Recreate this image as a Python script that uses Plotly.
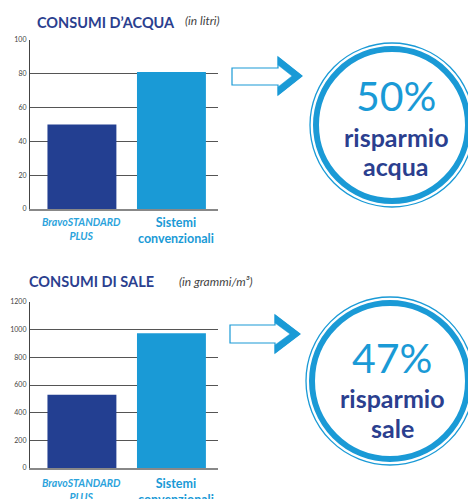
import plotly.graph_objects as go

W, H = 476, 499
OFF = 8  # page body margin of the browser

categories = ["BravoSTANDARD PLUS", "Sistemi convenzionali"]
water_values = [50, 81]
salt_values = [530, 975]
water_ticks = [0, 20, 40, 60, 80, 100]
salt_ticks = [0, 200, 400, 600, 800, 1000, 1200]
water_saving = "50%"
salt_saving = "47%"

DARK = "#233f91"
LIGHT = "#1a9ad6"
TXT_DARK = "#2b3f8f"

FW, FH = W - OFF, H - OFF


def px(x):
    return (x - OFF) / FW


def py(y):
    return 1 - (y - OFF) / FH


fig = go.Figure()
fig.add_trace(go.Bar(x=categories, y=water_values, marker_color=[DARK, LIGHT],
                     width=0.77, xaxis="x", yaxis="y", showlegend=False,
                     marker_line_width=0))
fig.add_trace(go.Bar(x=categories, y=salt_values, marker_color=[DARK, LIGHT],
                     width=0.77, xaxis="x2", yaxis="y2", showlegend=False,
                     marker_line_width=0))

xdom = [px(30), px(218)]
xcommon = dict(domain=xdom, range=[-0.58, 1.52], showticklabels=False, ticks="",
               showline=True, linecolor="#888", linewidth=1.5, showgrid=False,
               zeroline=False, fixedrange=True, automargin=False)
ycommon = dict(showline=True, linecolor="#444", linewidth=1.2, showgrid=True,
               gridcolor="#555", gridwidth=1.1, zeroline=False, ticks="", automargin=False,
               tickfont=dict(family="Lato", size=7, color="#444"), ticklabelstandoff=1)

fig.update_layout(
    width=FW, height=FH, margin=dict(l=0, r=0, t=0, b=0, autoexpand=False),
    paper_bgcolor="white", plot_bgcolor="white",
    xaxis=dict(**xcommon, anchor="y"),
    yaxis=dict(**ycommon, domain=[py(209), py(40)], range=[0, 100], tickvals=water_ticks, anchor="x"),
    xaxis2=dict(**xcommon, anchor="y2"),
    yaxis2=dict(**ycommon, domain=[py(468), py(302)], range=[0, 1200], tickvals=salt_ticks, anchor="x2"),
    bargap=0.2,
)

ann = []
# titles
ann.append(dict(text="<b>CONSUMI D’ACQUA</b>", x=px(35), y=py(22), xref="paper", yref="paper",
                xanchor="left", yanchor="middle", showarrow=False,
                font=dict(family="Lato", size=14.5, color=TXT_DARK)))
ann.append(dict(text="<i>(in litri)</i>", x=px(183), y=py(21), xref="paper", yref="paper",
                xanchor="left", yanchor="middle", showarrow=False,
                font=dict(family="Lato", size=12, color="#444")))
ann.append(dict(text="<b>CONSUMI DI SALE</b>", x=px(27), y=py(281), xref="paper", yref="paper",
                xanchor="left", yanchor="middle", showarrow=False,
                font=dict(family="Lato", size=14.5, color=TXT_DARK)))
ann.append(dict(text="<i>(in grammi/m³)</i>", x=px(177), y=py(281), xref="paper", yref="paper",
                xanchor="left", yanchor="middle", showarrow=False,
                font=dict(family="Lato", size=12, color="#444")))

# category labels
for xa, base in (("x", 209), ("x2", 468)):
    off = 0 if xa == "x" else 2
    ann.append(dict(text="<b><i>BravoSTANDARD<br>PLUS</i></b>", x=categories[0], y=py(base + 5 + off),
                    xref=xa, yref="paper", xanchor="center", yanchor="top", showarrow=False,
                    font=dict(family="Lato", size=10.5, color="#2ba3dc")))
    ann.append(dict(text="<b>Sistemi<br>convenzionali</b>", x=categories[1], y=py(base + 4 + off),
                    xref=xa, yref="paper", xanchor="center", yanchor="top", showarrow=False, xshift=5,
                    font=dict(family="Lato", size=12.5, color=LIGHT)))

# circle texts
for cx, ys, pct, word in ((396, (96, 137, 165), water_saving, "acqua"),
                          (392, (357, 398, 427), salt_saving, "sale")):
    ann.append(dict(text=pct, x=px(cx), y=py(ys[0]), xref="paper", yref="paper",
                    xanchor="center", yanchor="middle", showarrow=False,
                    font=dict(family="Lato", size=41, color=LIGHT, weight=400)))
    ann.append(dict(text="<b>risparmio</b>", x=px(cx), y=py(ys[1]), xref="paper", yref="paper",
                    xanchor="center", yanchor="middle", showarrow=False,
                    font=dict(family="Lato", size=25, color=TXT_DARK)))
    ann.append(dict(text="<b>" + word + "</b>", x=px(cx), y=py(ys[2] + 1), xref="paper", yref="paper",
                    xanchor="center", yanchor="middle", showarrow=False,
                    font=dict(family="Lato", size=25, color=TXT_DARK)))

fig.update_layout(annotations=ann)

shapes = []


def circle(cx, cy, r, width, color):
    return dict(type="circle", xref="paper", yref="paper",
                x0=px(cx - r), x1=px(cx + r), y0=py(cy + r), y1=py(cy - r),
                line=dict(color=color, width=width), fillcolor="rgba(0,0,0,0)", layer="above")


def path(points, close=True):
    s = "M " + " L ".join(f"{px(x):.5f},{py(y):.5f}" for x, y in points)
    return s + (" Z" if close else "")


for cx, cy, r in ((392, 125, 82), (390, 381, 84)):
    shapes.append(circle(cx, cy, r, 1.3, LIGHT))
    shapes.append(circle(cx, cy, r - 6, 6, LIGHT))

for x0, x1, y0, y1, ht, hb, tip in ((232, 278, 68, 85, 57, 95, 302),
                                   (230, 275, 325, 343, 315, 353, 300)):
    ty = (ht + hb) / 2
    shapes.append(dict(type="path", xref="paper", yref="paper",
                       path=path([(x0, y0), (x1, y0), (x1, ht), (tip, ty), (x1, hb), (x1, y1), (x0, y1)]),
                       line=dict(color=LIGHT, width=1.2), fillcolor="white"))
    shapes.append(dict(type="path", xref="paper", yref="paper",
                       path=path([(x1, ht), (tip, ty), (x1, hb), (x1, hb - 8), (tip - 10, ty), (x1, ht + 8)]),
                       line=dict(color=LIGHT, width=0.5), fillcolor=LIGHT))

fig.update_layout(shapes=shapes)
fig.write_html("out.html")
